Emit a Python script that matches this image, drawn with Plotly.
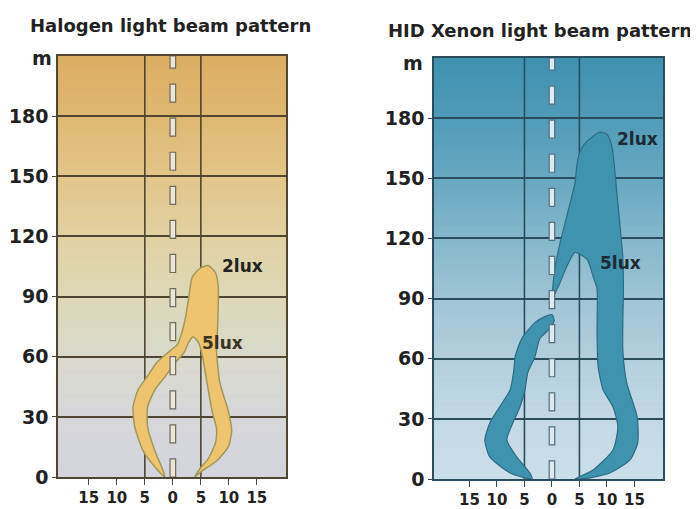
import plotly.graph_objects as go

# ---------------- data ----------------
panel_titles = ["Halogen light beam pattern", "HID Xenon light beam pattern"]
y_ticks = [0, 30, 60, 90, 120, 150, 180]
x_ticks = [-15, -10, -5, 0, 5, 10, 15]
x_tick_labels = ["15", "10", "5", "0", "5", "10", "15"]
lux_labels = ["2lux", "5lux"]

# Halogen light zone (outer edge, then inner edge of the fork)
halogen_x = [-1.4, -3.2, -5.3, -6.8, -7.1, -6.2, -4.6, -2.9, -0.9, 0.8, 1.6, 2.3, 2.9, 3.5, 4.8, 6.3, 7.6, 8.1,
             8.0, 7.8, 8.4, 9.9, 10.5, 9.9, 7.8, 5.2, 3.9,
             4.8, 6.3, 7.6, 7.8, 7.0, 6.1, 5.3, 4.6, 3.6, 2.8, 2.0, 0.4, -1.4, -3.2, -4.5, -4.5, -3.2, -2.0, -1.4]
halogen_y = [0, 5, 13, 25, 35, 43.5, 50, 57, 62, 66, 72, 80, 91, 100, 104, 105.5, 102, 95,
             75, 63, 47, 33, 23, 15, 8, 3, 0,
             4, 9, 17, 24, 33, 47, 60, 67, 70, 67, 62, 57, 50, 43.5, 35, 25, 13, 5, 0]

# HID Xenon: left arm
xenon_arm_x = [-3.6, -7.6, -11.3, -12.2, -11.3, -9.5, -7.6, -6.9, -6.7, -5.5, -3.1, -1.3, 0.0, 0.4,
               -0.4, -2.2, -3.1, -4.4, -4.9, -5.8, -7.1, -8.2, -6.4, -4.0, -3.6]
xenon_arm_y = [0, 3, 11, 19.5, 28, 36, 44.5, 55, 61, 70, 78, 81, 82, 79,
               75, 70, 61, 53, 44.5, 36, 28, 19.5, 11, 3, 0]

# HID Xenon: main lobe and right arm
xenon_body_x = [0.0, 0.5, 1.5, 2.7, 4.2, 4.7, 5.6, 7.5, 8.7, 10.0, 10.9, 11.8, 12.4, 12.9, 13.0, 12.9, 12.9,
                13.6, 15.5, 15.6, 14.2, 10.5, 6.4, 4.2,
                7.5, 11.1, 12.0, 11.1, 9.3, 8.4, 8.2, 8.2, 7.5, 6.4, 4.2, 2.7, 1.5, 0.3, 0.0]
xenon_body_y = [89, 104.5, 118, 131, 148, 159.5, 166, 171, 173, 172, 166, 143, 126, 110, 95, 78, 64,
                48, 31, 18, 9.5, 3, 0.3, 0,
                4.5, 14.5, 26, 36, 44.5, 56, 73, 95, 101, 109.5, 113, 106, 98, 91, 89]

# ---------------- figure ----------------
# the page body has an 8px margin, so the figure is drawn 8px in from the window corner
OFF = 8
W, H = 698 - OFF, 509 - OFF


def px(x):
    return (x - OFF) / W


def py(y):
    return 1 - (y - OFF) / H


fig = go.Figure()

hal_fill, hal_line = "#efc46e", "#a09858"
xen_fill, xen_line = "#3f93ae", "#2a6c84"

fig.add_trace(go.Scatter(x=halogen_x, y=halogen_y, mode="lines", fill="toself",
                         fillcolor=hal_fill, line=dict(color=hal_line, width=1.5, shape="spline", smoothing=0.6),
                         xaxis="x", yaxis="y", hoverinfo="skip", showlegend=False))
fig.add_trace(go.Scatter(x=xenon_arm_x, y=xenon_arm_y, mode="lines", fill="toself",
                         fillcolor=xen_fill, line=dict(color=xen_line, width=1.2, shape="spline", smoothing=0.6),
                         xaxis="x2", yaxis="y2", hoverinfo="skip", showlegend=False))
fig.add_trace(go.Scatter(x=xenon_body_x, y=xenon_body_y, mode="lines", fill="toself",
                         fillcolor=xen_fill, line=dict(color=xen_line, width=1.2, shape="spline", smoothing=0.6),
                         xaxis="x2", yaxis="y2", hoverinfo="skip", showlegend=False))


def hex2rgb(h):
    h = h.lstrip("#")
    return [int(h[i:i + 2], 16) for i in (0, 2, 4)]


def interp(stops, t):
    for (t0, c0), (t1, c1) in zip(stops, stops[1:]):
        if t0 <= t <= t1:
            f = (t - t0) / (t1 - t0) if t1 > t0 else 0
            a, b = hex2rgb(c0), hex2rgb(c1)
            return "rgb(%d,%d,%d)" % tuple(round(a[i] + (b[i] - a[i]) * f) for i in range(3))
    return stops[-1][1]


hal_stops = [(0, "#d4d4de"), (30, "#d6d6da"), (60, "#d9d9cc"), (90, "#ddd8b6"), (120, "#e2d1a2"),
             (150, "#e2c589"), (180, "#dfb872"), (210, "#dbad62")]
xen_stops = [(0, "#cbdfea"), (30, "#c2d8e4"), (60, "#b3cfdd"), (90, "#9fc4d5"), (120, "#84b7cb"),
             (150, "#68a8c2"), (180, "#509bb8"), (210, "#3f90b0")]

shapes = []
Y_MAX = 210
band = 3
for ax, stops in (("", hal_stops), ("2", xen_stops)):
    y0 = 0
    while y0 < Y_MAX:
        y1 = min(Y_MAX, y0 + band)
        shapes.append(dict(type="rect", layer="below", xref="x%s domain" % ax, yref="y" + ax,
                           x0=0, x1=1, y0=y0, y1=y1 + 0.3, line=dict(width=0),
                           fillcolor=interp(stops, (y0 + y1) / 2)))
        y0 = y1

grid_cols = {"": "#4f4530", "2": "#2b4c5c"}
dash_fill = {"": "#ece6d6", "2": "#dfeaf0"}
dash_line = {"": "#6f6a5c", "2": "#52707e"}
for ax in ("", "2"):
    for xv in (-5, 5):
        shapes.append(dict(type="line", layer="between", xref="x" + ax, yref="y" + ax,
                           x0=xv, x1=xv, y0=0, y1=Y_MAX, line=dict(color=grid_cols[ax], width=1.6)))
    k = 0
    while k * 17 < Y_MAX:
        y0 = k * 17
        y1 = min(Y_MAX, y0 + 9)
        shapes.append(dict(type="rect", layer="above", xref="x" + ax, yref="y" + ax,
                           x0=-0.5, x1=0.5, y0=y0, y1=y1,
                           fillcolor=dash_fill[ax], line=dict(color=dash_line[ax], width=1.2)))
        k += 1

font_main = "DejaVu Sans, Verdana, sans-serif"
txt = "#222222"


def xaxis_cfg(dom, rng, col):
    return dict(domain=dom, range=rng, tickmode="array", tickvals=x_ticks, ticktext=x_tick_labels,
                showgrid=False, zeroline=False, showline=True, mirror=True, linecolor=col, linewidth=1.6,
                ticks="outside", ticklen=6, tickcolor=col, tickwidth=1.2, automargin=False,
                tickfont=dict(family=font_main, size=15, color=txt, weight="bold"), fixedrange=True)


def yaxis_cfg(dom, col):
    return dict(domain=dom, range=[0, Y_MAX], tickmode="array", tickvals=y_ticks,
                ticktext=[str(v) for v in y_ticks], showgrid=True, gridcolor=col, gridwidth=1.6,
                zeroline=False, showline=True, mirror=True, linecolor=col, linewidth=1.6,
                ticks="outside", ticklen=4, tickcolor=col, automargin=False,
                tickfont=dict(family=font_main, size=19, color=txt, weight="bold"), fixedrange=True)


annotations = [
    dict(text=panel_titles[0], xref="paper", yref="paper", x=px(170), y=py(25), showarrow=False,
         font=dict(family=font_main, size=18, color=txt, weight="bold"), xanchor="center", yanchor="middle"),
    dict(text=panel_titles[1], xref="paper", yref="paper", x=px(540), y=py(31), showarrow=False,
         font=dict(family=font_main, size=18, color=txt, weight="bold"), xanchor="center", yanchor="middle"),
    dict(text="m", xref="paper", yref="paper", x=px(42), y=py(58), showarrow=False,
         font=dict(family=font_main, size=19, color=txt, weight="bold"), xanchor="center", yanchor="middle"),
    dict(text="m", xref="paper", yref="paper", x=px(413), y=py(63), showarrow=False,
         font=dict(family=font_main, size=19, color=txt, weight="bold"), xanchor="center", yanchor="middle"),
    dict(text=lux_labels[0], xref="x", yref="y", x=12.5, y=105.5, showarrow=False,
         font=dict(family=font_main, size=17, color=txt, weight="bold")),
    dict(text=lux_labels[1], xref="x", yref="y", x=8.9, y=67, showarrow=False,
         font=dict(family=font_main, size=17, color="#3a3320", weight="bold")),
    dict(text=lux_labels[0], xref="x2", yref="y2", x=15.6, y=169.5, showarrow=False,
         font=dict(family=font_main, size=17, color="#1d2a33", weight="bold")),
    dict(text=lux_labels[1], xref="x2", yref="y2", x=12.4, y=107.5, showarrow=False,
         font=dict(family=font_main, size=17, color="#1d2a33", weight="bold")),
]

fig.update_layout(
    width=W, height=H, margin=dict(l=0, r=0, t=0, b=0),
    paper_bgcolor="white", plot_bgcolor="white",
    xaxis=xaxis_cfg([px(58), px(286)], [-20.5, 20.2], grid_cols[""]),
    yaxis=yaxis_cfg([py(477), py(56)], grid_cols[""]),
    xaxis2=xaxis_cfg([px(434), px(663)], [-21.45, 20.2], grid_cols["2"]),
    yaxis2=yaxis_cfg([py(479), py(58)], grid_cols["2"]),
    shapes=shapes, annotations=annotations, showlegend=False,
)
fig.update_layout(yaxis2_anchor="x2", xaxis2_anchor="y2")

fig.write_html("out.html")
